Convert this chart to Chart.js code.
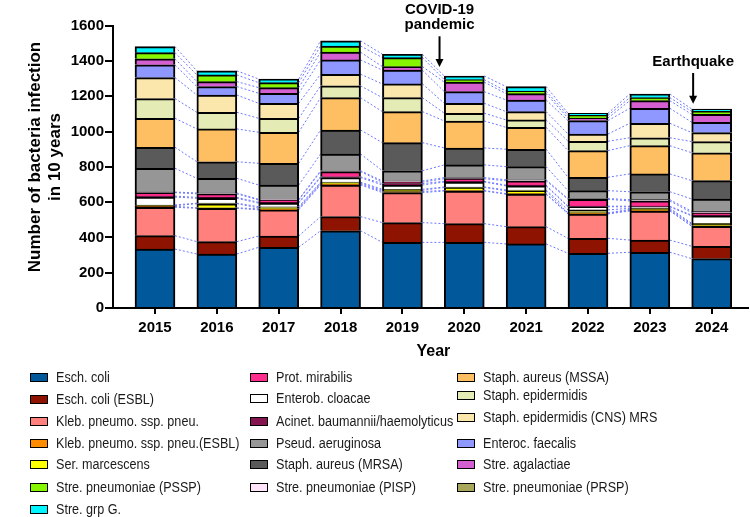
<!DOCTYPE html>
<html>
<head>
<meta charset="utf-8">
<script src="https://cdn.jsdelivr.net/npm/chart.js@4.4.1/dist/chart.umd.min.js"></script>
<style>
  html, body { margin: 0; padding: 0; background: #fff; }
  #wrap { position: relative; width: 750px; height: 517px; font-family: "Liberation Sans", Arial, sans-serif; }
  #wrap canvas { position: absolute; left: 0; top: 0; }
  .lg { position: absolute; height: 16px; display: flex; align-items: center; white-space: nowrap; }
  .lg i { display: inline-block; width: 16px; height: 7px; border: 1.5px solid #000; margin-right: 8px; }
  .lg span { font-size: 14px; color: #1a1a1a; transform: scaleX(0.9); transform-origin: left center; }
</style>
</head>
<body>
<div id="wrap">
  <canvas id="chart"></canvas>
</div>
<script>
// years on the x axis
const years = [2015, 2016, 2017, 2018, 2019, 2020, 2021, 2022, 2023, 2024];

// infections per organism, bottom of the stack first
const eschColi     = [334, 306, 344, 438, 372, 372, 363, 310, 316, 280];
const eschColiESBL = [76, 70, 64, 80, 112, 106, 98, 85, 69, 70];
const kleb         = [161, 189, 148, 179, 170, 185, 184, 138, 165, 113];
const klebESBL     = [5, 3, 6, 6, 6, 3, 3, 3, 4, 3];
const serMarc      = [4, 23, 5, 5, 7, 17, 16, 3, 5, 8];
const strePRSP     = [4, 3, 7, 5, 6, 3, 5, 17, 6, 6];
const enterob      = [45, 28, 20, 26, 24, 28, 23, 18, 8, 42];
const acinet       = [5, 5, 5, 5, 8, 4, 4, 3, 4, 4];
const prot         = [20, 20, 13, 29, 8, 15, 25, 39, 30, 14];
const strePISP     = [3, 5, 4, 5, 7, 6, 6, 4, 7, 8];
const pseud        = [135, 83, 81, 95, 58, 72, 74, 45, 45, 70];
const mrsa         = [119, 94, 123, 136, 159, 96, 99, 76, 101, 104];
const mssa         = [164, 186, 176, 183, 176, 153, 124, 151, 160, 158];
const staphEpi     = [112, 94, 79, 67, 79, 44, 42, 53, 45, 63];
const staphEpiMRS  = [119, 98, 85, 66, 78, 56, 47, 41, 82, 51];
const enteroc      = [72, 48, 57, 81, 78, 66, 66, 76, 85, 59];
const streAgal     = [34, 28, 32, 44, 20, 54, 36, 15, 43, 45];
const strePSSP     = [35, 38, 28, 35, 51, 14, 14, 15, 17, 16];
const streGrpG     = [34, 23, 21, 29, 19, 21, 26, 12, 21, 14];

const yTicks = [0, 200, 400, 600, 800, 1000, 1200, 1400, 1600];

// legend columns as printed under the chart
const legendCols = [
  ["Esch. coli", "Esch. coli (ESBL)", "Kleb. pneumo. ssp. pneu.", "Kleb. pneumo. ssp. pneu.(ESBL)", "Ser. marcescens", "Stre. pneumoniae (PSSP)", "Stre. grp G."],
  ["Prot. mirabilis", "Enterob. cloacae", "Acinet. baumannii/haemolyticus", "Pseud. aeruginosa", "Staph. aureus (MRSA)", "Stre. pneumoniae (PISP)"],
  ["Staph. aureus (MSSA)", "Staph. epidermidis", "Staph. epidermidis (CNS) MRS", "Enteroc. faecalis", "Stre. agalactiae", "Stre. pneumoniae (PRSP)"],
];

const series = [
  ["Esch. coli", eschColi, "#01589a"],
  ["Esch. coli (ESBL)", eschColiESBL, "#8e1300"],
  ["Kleb. pneumo. ssp. pneu.", kleb, "#ff807c"],
  ["Kleb. pneumo. ssp. pneu.(ESBL)", klebESBL, "#ff8c00"],
  ["Ser. marcescens", serMarc, "#ffff00"],
  ["Stre. pneumoniae (PRSP)", strePRSP, "#a8a85c"],
  ["Enterob. cloacae", enterob, "#ffffff"],
  ["Acinet. baumannii/haemolyticus", acinet, "#85134f"],
  ["Prot. mirabilis", prot, "#ff2e8e"],
  ["Stre. pneumoniae (PISP)", strePISP, "#ffe4fa"],
  ["Pseud. aeruginosa", pseud, "#969696"],
  ["Staph. aureus (MRSA)", mrsa, "#5a5a5a"],
  ["Staph. aureus (MSSA)", mssa, "#fdbf62"],
  ["Staph. epidermidis", staphEpi, "#e4ebb4"],
  ["Staph. epidermidis (CNS) MRS", staphEpiMRS, "#fbe6ab"],
  ["Enteroc. faecalis", enteroc, "#8f98ff"],
  ["Stre. agalactiae", streAgal, "#d45fd0"],
  ["Stre. pneumoniae (PSSP)", strePSSP, "#86f500"],
  ["Stre. grp G.", streGrpG, "#00f6ff"],
];

const colorOf = Object.fromEntries(series.map(s => [s[0], s[2]]));

// arrows + captions, in data units
const notes = [
  { text: ["COVID-19", "pandemic"], x: 2019.6, textY: [1690, 1605], from: 1540, to: 1366 },
  { text: ["Earthquake"], x: 2023.7, textY: [1395], from: 1332, to: 1158 },
];

const FONT = '"Liberation Sans", Arial, Helvetica, sans-serif';

const extras = {
  id: "extras",
  beforeDatasetsDraw(chart) {
    const ctx = chart.ctx;
    ctx.save();
    ctx.strokeStyle = "#6e78ff";
    ctx.lineWidth = 1;
    ctx.setLineDash([2, 2]);
    chart.data.datasets.forEach((ds, d) => {
      const bars = chart.getDatasetMeta(d).data;
      for (let i = 0; i < bars.length - 1; i++) {
        const a = bars[i], b = bars[i + 1];
        ctx.beginPath();
        ctx.moveTo(a.x + a.width / 2, a.y);
        ctx.lineTo(b.x - b.width / 2, b.y);
        ctx.stroke();
      }
    });
    ctx.restore();
  },
  afterDraw(chart) {
    const { ctx, scales: { x, y } } = chart;
    ctx.save();
    ctx.fillStyle = "#000";
    ctx.strokeStyle = "#000";
    ctx.textAlign = "center";
    ctx.textBaseline = "middle";

    // axis titles
    ctx.font = "bold 16px " + FONT;
    ctx.fillText("Year", (x.getPixelForValue(years[0]) + x.getPixelForValue(years[years.length - 1])) / 2, 352);
    ctx.save();
    ctx.translate(35, 157);
    ctx.rotate(-Math.PI / 2);
    ctx.font = "bold 17px " + FONT;
    ctx.fillText("Number of bacteria infection", 0, 0);
    ctx.fillText("in 10 years", 0, 20);
    ctx.restore();

    // event annotations
    ctx.font = "bold 15px " + FONT;
    notes.forEach(n => {
      const px = x.getPixelForValue(n.x);
      n.text.forEach((t, i) => ctx.fillText(t, px, y.getPixelForValue(n.textY[i])));
      const y0 = y.getPixelForValue(n.from), y1 = y.getPixelForValue(n.to);
      ctx.lineWidth = 2;
      ctx.beginPath();
      ctx.moveTo(px, y0);
      ctx.lineTo(px, y1 - 6);
      ctx.stroke();
      ctx.beginPath();
      ctx.moveTo(px - 4, y1 - 8);
      ctx.lineTo(px + 4, y1 - 8);
      ctx.lineTo(px, y1);
      ctx.closePath();
      ctx.fill();
    });
    ctx.restore();
  },
};

const wrap = document.getElementById("wrap");
legendCols.forEach((col, c) => {
  const left = [30, 250, 457][c];
  const rows = [
    [377, 399, 421, 443, 464, 487, 509],
    [377, 398, 421, 443, 464, 487],
    [377, 395, 417, 443, 464, 487],
  ][c];
  col.forEach((name, r) => {
    const el = document.createElement("div");
    el.className = "lg";
    el.style.left = left + "px";
    el.style.top = (rows[r] - 8) + "px";
    el.innerHTML = `<i style="background:${colorOf[name]}"></i><span>${name}</span>`;
    wrap.appendChild(el);
  });
});

const canvas = document.getElementById("chart");
canvas.width = 750;
canvas.height = 517;

new Chart(canvas, {
  type: "bar",
  data: {
    labels: years,
    datasets: series.map(([label, data, color]) => ({
      label, data,
      backgroundColor: color,
      borderColor: "#000",
      borderWidth: 2,
      barThickness: 40,
      stack: "all",
    })),
  },
  options: {
    responsive: false,
    animation: false,
    layout: { padding: { top: 25.7, right: 2, bottom: 149, left: 0 } },
    plugins: { legend: { display: false }, tooltip: { enabled: false } },
    scales: {
      x: {
        type: "linear",
        stacked: true,
        offset: false,
        min: 2014.321,
        max: 2024.587,
        afterBuildTicks: s => { s.ticks = years.map(v => ({ value: v })); },
        afterFit: s => { s.height = 60; },
        grid: { offset: false, drawOnChartArea: false, color: "#000", lineWidth: 2, tickLength: 6 },
        border: { color: "#000", width: 2 },
        ticks: {
          autoSkip: false, maxRotation: 0, padding: 5, color: "#000",
          font: { family: FONT, size: 15, weight: "bold" },
          callback: v => String(v),
        },
      },
      y: {
        stacked: true,
        min: 0,
        max: 1600,
        afterBuildTicks: s => { s.ticks = yTicks.map(v => ({ value: v })); },
        afterFit: s => { s.width = 113; },
        grid: { drawOnChartArea: false, color: "#000", lineWidth: 2, tickLength: 8 },
        border: { color: "#000", width: 2 },
        ticks: {
          padding: 1, color: "#000",
          font: { family: FONT, size: 15, weight: "bold" },
          callback: v => String(v),
        },
      },
    },
  },
  plugins: [extras],
});
</script>
</body>
</html>
